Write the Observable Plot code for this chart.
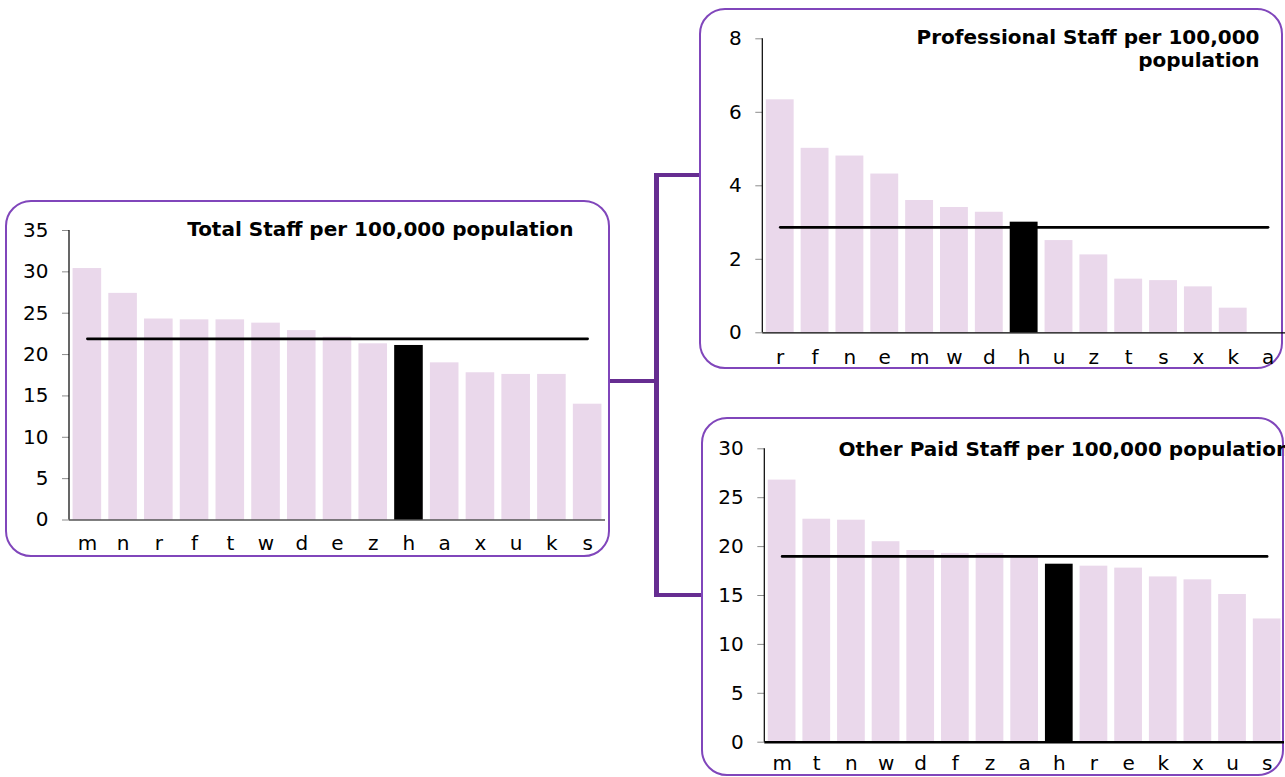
<!DOCTYPE html>
<html>
<head>
<meta charset="utf-8">
<script src="https://cdn.jsdelivr.net/npm/d3@7"></script>
<script src="https://cdn.jsdelivr.net/npm/@observablehq/plot@0.6"></script>
<style>
  html, body { margin: 0; padding: 0; background: #fff; overflow: hidden; }
  #stage { position: relative; width: 1285px; height: 777px; overflow: hidden; font-family: "DejaVu Sans", Verdana, sans-serif; }
  .box { position: absolute; border: 2px solid #8046bb; border-radius: 26px; box-sizing: border-box; }
  .conn { position: absolute; background: #662d91; }
  .chart { position: absolute; }
</style>
</head>
<body>
<div id="stage"></div>
<script>
// ---- data ----
const highlight = "h";

const totalTitle = "Total Staff per 100,000 population";
const totalCats = ["m","n","r","f","t","w","d","e","z","h","a","x","u","k","s"];
const totalVals = [30.4, 27.4, 24.3, 24.2, 24.2, 23.8, 22.9, 22.1, 21.3, 21.1, 19.0, 17.8, 17.6, 17.6, 14.0];
const totalAvg = 21.9;
const totalTicks = [0, 5, 10, 15, 20, 25, 30, 35];

const profTitle = "Professional Staff per 100,000\npopulation";
const profCats = ["r","f","n","e","m","w","d","h","u","z","t","s","x","k","a"];
const profVals = [6.34, 5.02, 4.81, 4.32, 3.60, 3.41, 3.28, 3.01, 2.51, 2.12, 1.46, 1.42, 1.25, 0.67, 0];
const profAvg = 2.87;
const profTicks = [0, 2, 4, 6, 8];

const otherTitle = "Other Paid Staff per 100,000 population";
const otherCats = ["m","t","n","w","d","f","z","a","h","r","e","k","x","u","s"];
const otherVals = [26.8, 22.8, 22.7, 20.5, 19.6, 19.3, 19.3, 18.9, 18.2, 18.0, 17.8, 16.9, 16.6, 15.1, 12.6];
const otherAvg = 19.0;
const otherTicks = [0, 5, 10, 15, 20, 25, 30];

const barColor = "#ead8eb";
const font = "DejaVu Sans, Verdana, sans-serif";

const stage = document.getElementById("stage");

function addDiv(cls, l, t, w, h) {
  const d = document.createElement("div");
  d.className = cls;
  Object.assign(d.style, {left: l + "px", top: t + "px", width: w + "px", height: h + "px"});
  stage.appendChild(d);
  return d;
}

function chart(cfg) {
  const data = cfg.cats.map((c, i) => ({cat: c, val: cfg.vals[i]}));
  const yLine = (...args) => {
    const dims = args.find(a => a && typeof a === "object" && "marginLeft" in a && "height" in a) ||
      {marginLeft: cfg.ml, marginTop: cfg.mt, marginBottom: cfg.mb, height: cfg.height};
    const l = document.createElementNS("http://www.w3.org/2000/svg", "line");
    const x = dims.marginLeft;
    l.setAttribute("x1", x); l.setAttribute("x2", x);
    l.setAttribute("y1", dims.marginTop); l.setAttribute("y2", dims.height - dims.marginBottom);
    l.setAttribute("stroke", "#000");
    l.setAttribute("stroke-width", 1.2);
    return l;
  };
  const svg = Plot.plot({
    width: cfg.width,
    height: cfg.height,
    marginTop: cfg.mt,
    marginBottom: cfg.mb,
    marginLeft: cfg.ml,
    marginRight: cfg.mr,
    style: {background: "transparent", maxWidth: "none", fontFamily: font, fontSize: "20px", color: "#000"},
    x: {domain: cfg.cats, paddingInner: 0.2, paddingOuter: 0.1, round: false, axis: null},
    y: {domain: [0, cfg.yMax], axis: null},
    marks: [
      Plot.barY(data, {filter: d => d.cat !== highlight, x: "cat", y: "val", fill: barColor}),
      Plot.barY(data, {filter: d => d.cat === highlight, x: "cat", y: "val", fill: "#000"}),
      Plot.axisY({ticks: cfg.ticks, label: null, tickSize: 7, tickPadding: 14, stroke: "#8c8c8c", fill: "#000", fontSize: 20, tickFormat: d => String(d)}),
      Plot.axisX({label: null, tickSize: 0, tickPadding: cfg.xPad, fill: "#000", fontSize: 20}),
      Plot.ruleY([0], {stroke: "#000", strokeWidth: cfg.baseWidth}),
      yLine,
      Plot.lineY(cfg.cats, {x: d => d, y: () => cfg.avg, stroke: "#000", strokeWidth: 2.6}),
      Plot.text([cfg.title], {
        text: d => d,
        frameAnchor: cfg.titleAnchor,
        textAnchor: cfg.titleTextAnchor,
        lineAnchor: "bottom",
        dx: cfg.titleDx,
        dy: cfg.titleDy,
        fontWeight: "bold",
        fontSize: cfg.titleSize,
        lineHeight: 1.17,
        fill: "#000"
      })
    ]
  });
  const holder = addDiv("chart", cfg.left, cfg.top, cfg.width, cfg.height);
  holder.appendChild(svg);
}

// connectors
addDiv("conn", 654.3, 172.7, 4.5, 424);
addDiv("conn", 654.3, 172.7, 46, 4);
addDiv("conn", 609, 379, 47, 4);
addDiv("conn", 654.3, 592.5, 47.5, 4.2);

// boxes
addDiv("box", 5, 200, 605, 357);
addDiv("box", 699, 8, 584, 361);
addDiv("box", 701, 417, 583, 359);

chart({
  cats: totalCats, vals: totalVals, avg: totalAvg, yMax: 35, ticks: totalTicks,
  title: totalTitle, titleAnchor: "top-right", titleTextAnchor: "end", titleDx: -32, titleDy: 5, titleSize: 20,
  left: 0, top: 200, width: 610, height: 357, mt: 30, mb: 37.5, ml: 69, mr: 5, xPad: 15.8, baseWidth: 1.2
});

chart({
  cats: profCats, vals: profVals, avg: profAvg, yMax: 8, ticks: profTicks,
  title: profTitle, titleAnchor: "top-right", titleTextAnchor: "end", titleDx: -26, titleDy: 28.4, titleSize: 20,
  left: 690, top: 0, width: 595, height: 370, mt: 38.3, mb: 37.7, ml: 72.3, mr: 0, xPad: 16.8, baseWidth: 1.2
});

chart({
  cats: otherCats, vals: otherVals, avg: otherAvg, yMax: 30, ticks: otherTicks,
  title: otherTitle, titleAnchor: "top-left", titleTextAnchor: "start", titleDx: 73.7, titleDy: 7.4, titleSize: 20,
  left: 690, top: 410, width: 595, height: 367, mt: 38.3, mb: 35.3, ml: 74.3, mr: 1, xPad: 13.4, baseWidth: 2.6
});
</script>
</body>
</html>
